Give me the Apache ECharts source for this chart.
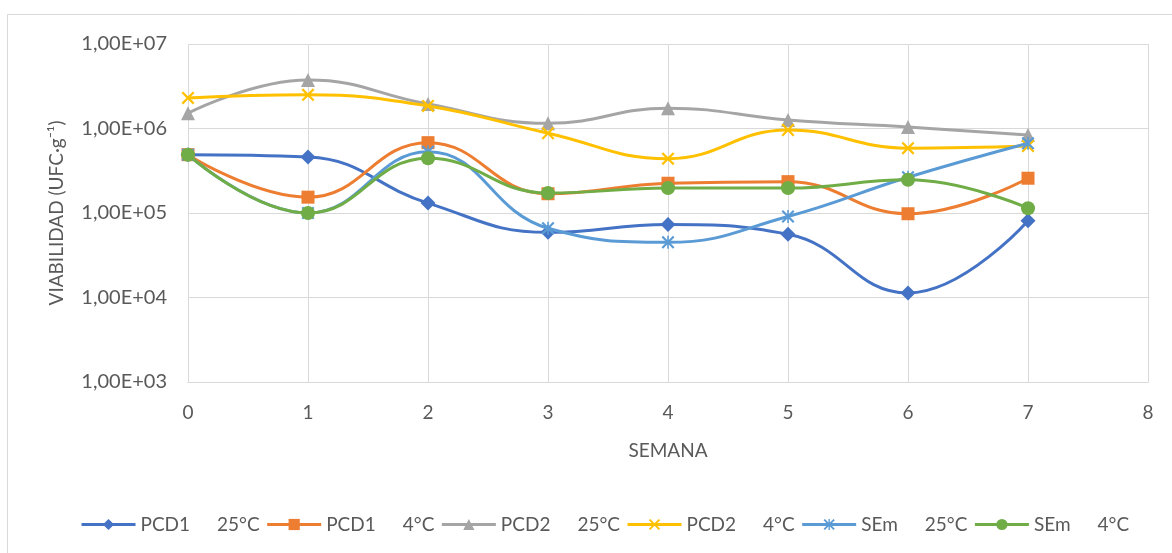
<!DOCTYPE html>
<html>
<head>
<meta charset="utf-8">
<script src="https://cdn.jsdelivr.net/npm/echarts@6/dist/echarts.min.js"></script>
<style>html,body{margin:0;padding:0;background:#fff}#c{width:1172px;height:553px}</style>
</head>
<body>
<div id="c"></div>
<script>
var weeks = [0, 1, 2, 3, 4, 5, 6, 7];
var seriesNames = ['PCD1 25°C', 'PCD1 4°C', 'PCD2 25°C', 'PCD2 4°C', 'SEm 25°C', 'SEm 4°C'];
var pcd1_25 = [490000, 460000, 131000, 59000, 73000, 56000, 11300, 81000];
var pcd1_4 = [490000, 154000, 680000, 169000, 225000, 235000, 98000, 258000];
var pcd2_25 = [1520000, 3750000, 1950000, 1150000, 1740000, 1260000, 1040000, 840000];
var pcd2_4 = [2300000, 2500000, 1850000, 880000, 440000, 960000, 585000, 620000];
var sem_25 = [490000, 100000, 530000, 66000, 45000, 91000, 265000, 670000];
var sem_4 = [490000, 100000, 445000, 172000, 197000, 197000, 247000, 114000];
var xTicks = [0, 1, 2, 3, 4, 5, 6, 7, 8];
var yTickExponents = [3, 4, 5, 6, 7];

var colors = ['#4472C4', '#ED7D31', '#A5A5A5', '#FFC000', '#5B9BD5', '#70AD47'];
var xPath = 'path://M0,1.2L1.2,0L5,3.8L8.8,0L10,1.2L6.2,5L10,8.8L8.8,10L5,6.2L1.2,10L0,8.8L3.8,5Z';
var starPath = 'path://M0,1.2L1.2,0L5,3.8L8.8,0L10,1.2L6.2,5L10,8.8L8.8,10L5,6.2L1.2,10L0,8.8L3.8,5Z M4.4,0L5.6,0L5.6,10L4.4,10Z';
var symbols = ['diamond', 'rect', 'triangle', xPath, starPath, 'circle'];
var symbolSizes = [15, 13, 14, 13, 13, 14];
var allData = [pcd1_25, pcd1_4, pcd2_25, pcd2_4, sem_25, sem_4];

var FONT = 'Lato';
var series = allData.map(function (vals, i) {
  return {
    name: seriesNames[i],
    type: 'line',
    smooth: 0.45,
    data: weeks.map(function (w, j) { return [w, vals[j]]; }),
    symbol: symbols[i],
    symbolSize: symbolSizes[i],
    showAllSymbol: true,
    lineStyle: { color: colors[i], width: 3 },
    itemStyle: { color: colors[i], borderWidth: 0 },
    emphasis: { disabled: true },
    z: 2 + i
  };
});

var chart = echarts.init(document.getElementById('c'), null, { renderer: 'canvas' });
chart.setOption({
  animation: false,
  backgroundColor: '#fff',
  color: colors,
  textStyle: { fontFamily: FONT },
  graphic: [{
    type: 'rect', silent: true, z: -10,
    shape: { x: 7.5, y: 14.5, width: 1200, height: 600 },
    style: { fill: 'none', stroke: '#d9d9d9', lineWidth: 1 }
  }],
  grid: { left: 188, right: 24, top: 44, bottom: 171 },
  xAxis: {
    type: 'value', min: 0, max: 8, interval: 1,
    name: 'SEMANA', nameLocation: 'middle', nameGap: 59,
    nameTextStyle: { color: '#595959', fontSize: 19, fontFamily: FONT },
    axisLine: { show: true, lineStyle: { color: '#d9d9d9', width: 1 } },
    axisTick: { show: false },
    axisLabel: { color: '#595959', fontSize: 19, margin: 21, fontFamily: FONT,
      customValues: xTicks },
    splitLine: { show: true, lineStyle: { color: '#d9d9d9', width: 1 } }
  },
  yAxis: {
    type: 'log', logBase: 10, min: 1000, max: 10000000,
    name: 'VIABILIDAD (UFC·g⁻¹)', nameLocation: 'middle', nameGap: 122, nameRotate: 90,
    nameTextStyle: { color: '#595959', fontSize: 19, fontFamily: FONT },
    axisLine: { show: false },
    axisTick: { show: false },
    axisLabel: {
      color: '#595959', fontSize: 20, margin: 21, fontFamily: FONT,
      formatter: function (v) {
        var e = Math.round(Math.log10(v));
        if (yTickExponents.indexOf(e) < 0) return '';
        return '1,00E+' + (e < 10 ? '0' + e : e);
      }
    },
    splitLine: { show: true, lineStyle: { color: '#d9d9d9', width: 1 } }
  },
  legend: {
    left: 75, top: 510,
    itemWidth: 54, itemHeight: 14, itemGap: 6,
    lineStyle: { width: 3 },
    formatter: function (name) {
      var p = name.split(' ');
      return '{a|' + p[0] + '}{b|' + p[1] + '}';
    },
    textStyle: {
      color: '#595959', fontSize: 19, fontFamily: FONT,
      rich: {
        a: { color: '#595959', fontSize: 19, fontFamily: FONT },
        b: { color: '#595959', fontSize: 19, fontFamily: FONT, padding: [0, 0, 0, 27] }
      }
    },
    data: seriesNames
  },
  series: series
});
</script>
</body>
</html>
